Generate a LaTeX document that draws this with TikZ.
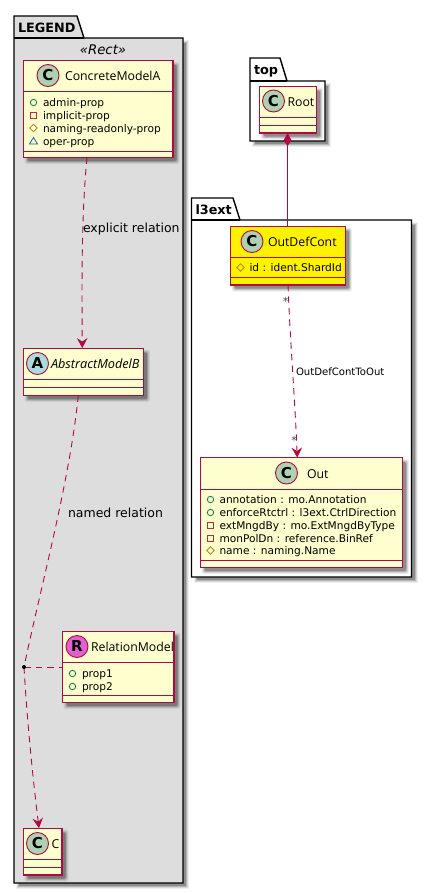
\documentclass[tikz,border=0pt]{standalone}
\usepackage{fontspec}
\setmainfont{DejaVu Sans}
\newfontfamily\cnfont{Open Sans}
\usetikzlibrary{arrows.meta,calc}
\definecolor{umlred}{HTML}{B00A40}
\definecolor{umlfill}{HTML}{FEFECE}
\definecolor{spotc}{HTML}{ADD1B2}
\definecolor{spota}{HTML}{A9DCDF}
\definecolor{spotr}{HTML}{E060D0}
\definecolor{vispub}{HTML}{038048}
\definecolor{vispri}{HTML}{C82930}
\definecolor{vispro}{HTML}{B38D22}
\definecolor{vispkg}{HTML}{1963A0}
\definecolor{pkggray}{HTML}{DDDDDD}
\tikzset{
  x=1pt,y=-1pt,
  every node/.style={inner sep=0pt,outer sep=0pt},
  classbox/.style={draw=umlred,line width=1.2pt,rectangle,anchor=north west},
  sep/.style={draw=umlred,line width=1pt},
  spot/.style={circle,draw=umlred,line width=.9pt,minimum size=22pt,font=\fontsize{15}{15}\selectfont\bfseries},
  cname/.style={anchor=base west,font=\fontsize{12.3}{14}\cnfont\selectfont},
  cnamei/.style={anchor=base west,font=\fontsize{12.7}{14}\cnfont\itshape\selectfont},
  memb/.style={anchor=base west,font=\fontsize{10.6}{12}\selectfont},
  pkg/.style={draw=black,line width=1.4pt,line join=miter},
  pkgname/.style={anchor=base west,font=\fontsize{12.8}{14}\selectfont\bfseries},
  link/.style={draw=umlred,line width=.9pt},
  dashlink/.style={link,dash pattern=on 6.5pt off 5pt},
  tip/.style={-{Stealth[inset=3.5pt,length=10pt,width=10.5pt,umlred]}},
  lab/.style={anchor=base west,font=\fontsize{12.5}{13}\selectfont},
  card/.style={anchor=center,font=\fontsize{11}{12}\selectfont,text=black!70},
}
\newcommand{\softshadow}[4]{%
  \foreach \d/\o in {2/.06,1/.10,0/.16,-1/.22}{%
    \fill[black,opacity=\o,rounded corners=1.5pt] (#1+4-\d,#2+4-\d) rectangle (#3+4+\d,#4+4+\d);}}
\newcommand{\classrect}[6]{% name x1 y1 x2 y2 fill
  \softshadow{#2}{#3}{#4}{#5}
  \node[classbox,fill=#6,minimum width=#4-#2-1.2,minimum height=#5-#3-1.2] (#1) at (#2+.6,#3+.6) {};}
\newcommand{\vpub}[2]{\draw[vispub,line width=.8pt] (#1,#2) circle (3.2);}
\newcommand{\vpri}[2]{\draw[vispri,line width=.8pt] (#1-3,#2-3) rectangle (#1+3,#2+3);}
\newcommand{\vpro}[2]{\draw[vispro,line width=.8pt] (#1,#2-3.8) -- (#1+3.8,#2) -- (#1,#2+3.8) -- (#1-3.8,#2) -- cycle;}
\newcommand{\vpkg}[2]{\draw[vispkg,line width=.8pt] (#1,#2-3.5) -- (#1+4,#2+3) -- (#1-4,#2+3) -- cycle;}
\begin{document}
\begin{tikzpicture}
\useasboundingbox (0,0) rectangle (432,894);
% packages
\foreach \d/\o in {2/.06,1/.10,0/.16,-1/.22}{
  \fill[black,opacity=\o] (14+4-\d,38+4-\d) rectangle (183+4+\d,883+4+\d);
  \fill[black,opacity=\o] (250+4-\d,81+4-\d) rectangle (325+4+\d,141+4+\d);
  \fill[black,opacity=\o] (191.5+4-\d,220+4-\d) rectangle (411.5+4+\d,577+4+\d);
}
\draw[pkg,fill=pkggray] (14,38) -- (14,16) -- (77,16) -- (84,38) -- (183,38) -- (183,883) -- (14,883) -- cycle;
\draw[pkg] (14,38) -- (84,38);
\node[pkgname] (legendname) at (18,32) {LEGEND};
\node[anchor=center,font=\fontsize{13.3}{14}\selectfont\itshape] (stereo) at (103,49.5) {«Rect»};
\draw[pkg,fill=white] (250,81) -- (250,58) -- (280,58) -- (287,81) -- (325,81) -- (325,141) -- (250,141) -- cycle;
\draw[pkg] (250,81) -- (287,81);
\node[pkgname] (topname) at (254,74.5) {top};
\draw[pkg,fill=white] (191.5,220) -- (191.5,198) -- (233,198) -- (240,220) -- (411.5,220) -- (411.5,577) -- (191.5,577) -- cycle;
\draw[pkg] (191.5,220) -- (240,220);
\node[pkgname] (extname) at (195.5,214) {l3ext};
% ConcreteModelA
\classrect{cma}{22.5}{60}{173.5}{158}{umlfill}
\draw[sep] (22.5,91) -- (173.5,91) (22.5,151) -- (173.5,151);
\node[spot,fill=spotc] (cmaspot) at (48,75.5) {C};
\node[cname] (cmaname) at (65,80) {ConcreteModelA};
\vpub{33.5}{102.5}\node[memb] (m1) at (43,106) {admin-prop};
\vpri{33.5}{115.5}\node[memb] (m2) at (43,119) {implicit-prop};
\vpro{33.5}{128}\node[memb] (m3) at (43,132) {naming-readonly-prop};
\vpkg{33.5}{141}\node[memb] (m4) at (43,145) {oper-prop};
% AbstractModelB
\classrect{amb}{22.5}{347.5}{144}{396}{umlfill}
\draw[sep] (22.5,379.5) -- (144,379.5) (22.5,387.5) -- (144,387.5);
\node[spot,fill=spota] (ambspot) at (37.5,363.5) {A};
\node[cnamei] (ambname) at (51,368) {AbstractModelB};
% RelationModel
\classrect{rel}{61.5}{630.5}{174.5}{703}{umlfill}
\draw[sep] (61.5,662) -- (174.5,662) (61.5,695) -- (174.5,695);
\node[spot,fill=spotr] (relspot) at (77,646.5) {R};
\node[cname] (relname) at (91,651) {RelationModel};
\vpub{72.5}{673.5}\node[memb] (p1) at (82,677) {prop1};
\vpub{72.5}{686.5}\node[memb] (p2) at (82,690) {prop2};
% C
\classrect{cc}{22.5}{827.5}{62.5}{875.5}{umlfill}
\draw[sep] (22.5,859.5) -- (62.5,859.5) (22.5,867.5) -- (62.5,867.5);
\node[spot,fill=spotc] (ccspot) at (37.5,843.5) {C};
\node[cname] (ccname) at (51.5,848) {C};
% Root
\classrect{root}{258.5}{85.5}{317}{133.5}{umlfill}
\draw[sep] (258.5,117) -- (317,117) (258.5,125.5) -- (317,125.5);
\node[spot,fill=spotc] (rootspot) at (273.5,101) {C};
\node[cname] (rootname) at (287.5,106) {Root};
% OutDefCont
\classrect{odc}{229.5}{225.5}{346}{285.5}{yellow}
\draw[sep] (229.5,257.5) -- (346,257.5) (229.5,277.5) -- (346,277.5);
\node[spot,fill=spotc] (odcspot) at (252,241.5) {C};
\node[cname] (odcname) at (268,246) {OutDefCont};
\vpro{240.5}{267.5}\node[memb] (o1) at (249.5,271.5) {id : ident.ShardId};
% Out
\classrect{out}{199.5}{457}{403}{568}{umlfill}
\draw[sep] (199.5,489) -- (403,489) (199.5,560) -- (403,560);
\node[spot,fill=spotc] (outspot) at (286.5,473) {C};
\node[cname] (outname) at (307,478) {Out};
\vpub{210.5}{499.5}\node[memb] (a1) at (219.5,503) {annotation : mo.Annotation};
\vpub{210.5}{512.5}\node[memb] (a2) at (219.5,516) {enforceRtctrl : l3ext.CtrlDirection};
\vpri{210.5}{525.5}\node[memb] (a3) at (219.5,529) {extMngdBy : mo.ExtMngdByType};
\vpri{210.5}{538.5}\node[memb] (a4) at (219.5,542) {monPolDn : reference.BinRef};
\vpro{210.5}{550.5}\node[memb] (a5) at (219.5,554) {name : naming.Name};
% connectors
\coordinate (dot) at (24,667);
\draw[dashlink,tip] ([xshift=-11pt]cma.south) .. controls (81,220) and (82,290) .. ([xshift=-1pt]amb.north);
\draw[dashlink] ([xshift=-5pt]amb.south) .. controls (70,480) and (40,590) .. (dot);
\draw[dashlink,tip] (dot) .. controls (27,720) and (33,780) .. ([xshift=-3.5pt]cc.north);
\draw[dashlink] (dot) -- (dot-|rel.west);
\fill[black] (dot) circle (2);
\draw[link,{Kite[length=13pt,width=8pt,inset=5.5pt,umlred]}-] ([xshift=-.2pt]root.south) -- ([xshift=-.2pt]root.south|-odc.north);
\draw[dashlink,tip] ([xshift=.3pt]odc.south) .. controls (290,340) and (295,400) .. ([xshift=-4pt]out.north);
% labels
\node[lab] (l1) at (83,232) {explicit relation};
\node[lab] (l2) at (68,517) {named relation};
\node[lab,font=\fontsize{10.1}{13}\selectfont] (l3) at (296,375) {OutDefContToOut};
\node[card] (c1) at (285.5,301.5) {*};
\node[card] (c2) at (294,440) {*};
\end{tikzpicture}
\end{document}
